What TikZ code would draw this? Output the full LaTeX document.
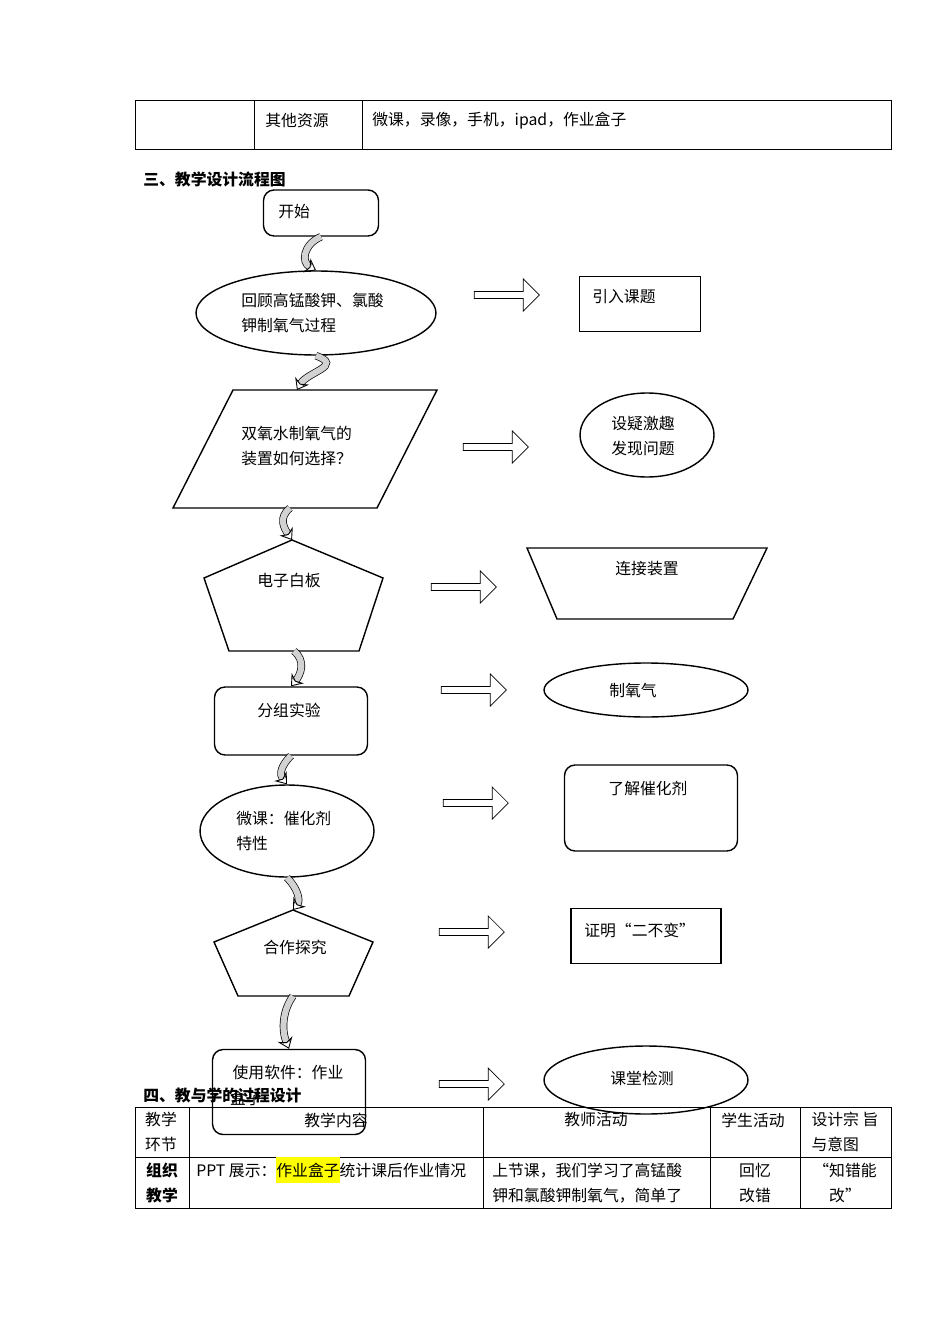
\documentclass[tikz,border=0pt]{standalone}
\usepackage{fontspec}
\setmainfont{Noto Sans CJK SC}
\usepackage{tikz}
\usetikzlibrary{shapes.geometric, shapes.arrows, arrows.meta, positioning, calc}
\definecolor{hlyellow}{HTML}{FFFF00}
\tikzset{
  box/.style={draw, thick, rectangle, inner sep=0pt},
  rbox/.style={draw, thick, rounded corners=6pt, inner sep=0pt},
  oval/.style={draw, thick, ellipse, inner sep=0pt},
  txt/.style={inner sep=0pt, font=\fontsize{9}{14}\selectfont, align=left},
  bigarrow/.style={draw, single arrow, minimum height=1.3cm, minimum width=0.3cm,
    inner sep=1.8pt, single arrow head indent=0pt, thin},
  curl/.style={line width=0.4pt, double=gray!35, double distance=3.5pt,
    -{Stealth[open, length=6pt, width=9pt, line width=0.5pt]}},
  head/.style={font=\fontsize{9}{12}\selectfont\bfseries, anchor=west, inner sep=0pt}
}
\begin{document}
\begin{tikzpicture}[x=0.02cm, y=-0.02cm]
  \useasboundingbox (0,0) rectangle (950,1344);

  % top table
  \draw[thin] (135,100) rectangle (891,149);
  \draw[thin] (254,100) -- (254,149) (362,100) -- (362,149);
  \node[txt] (res) at (297,121) {其他资源};
  \node[txt, anchor=west] (reslist) at (372,121) {微课，录像，手机，ipad，作业盒子};

  \node[head] (h3) at (143,179) {三、教学设计流程图};

  % flow chart, left column
  \node[rbox, minimum width=2.3cm, minimum height=0.92cm] (start) at (321,213) {};
  \node[txt, anchor=west] at (278,212) {开始};
  \node[oval, minimum width=4.8cm, minimum height=1.68cm] (recall) at (316,313) {};
  \node[txt, anchor=west] at (241,313) {回顾高锰酸钾、氯酸\\钾制氧气过程};

  \draw[thick] (233,390) -- (437,390) -- (377,508) -- (173,508) -- cycle;
  \coordinate (para-n) at (305,390);
  \coordinate (para-s) at (290,508);
  \node[txt, anchor=west] (para) at (241,446) {双氧水制氧气的\\装置如何选择？};

  \draw[thick] (292,540) -- (383,578) -- (359,651) -- (229,651) -- (204,578) -- cycle;
  \coordinate (pentA-n) at (292,540);
  \coordinate (pentA-s) at (294,651);
  \node[txt] (board) at (289,580) {电子白板};

  \node[rbox, minimum width=3.06cm, minimum height=1.36cm] (group) at (291,721) {};
  \node[txt] at (289,710) {分组实验};

  \node[oval, minimum width=3.48cm, minimum height=1.84cm] (micro) at (287,831) {};
  \node[txt, anchor=west] at (236,831) {微课：催化剂\\特性};

  \draw[thick] (293,910) -- (373,942) -- (349,996) -- (238,996) -- (214,942) -- cycle;
  \coordinate (pentB-n) at (293,910);
  \coordinate (pentB-s) at (293,996);
  \node[txt] (coop) at (295,947) {合作探究};

  \node[rbox, minimum width=3.06cm, minimum height=1.7cm] (soft) at (289,1092) {};
  \node[txt] at (288,1073) {使用软件：作业};
  \node[txt] at (246,1098) {盒子};

  % curled connectors
  \draw[curl] (start.south) .. controls +(-18,8) and +(-15,-8) .. (recall.north);
  \draw[curl] (recall.south) .. controls +(28,10) and +(10,-18) .. ($(para-n)+(-8,0)$);
  \draw[curl] (para-s) .. controls +(-12,10) and +(-8,-12) .. (pentA-n);
  \draw[curl] (pentA-s) .. controls +(12,10) and +(10,-12) .. (group.north);
  \draw[curl] (group.south) .. controls +(-10,10) and +(-8,-10) .. (micro.north);
  \draw[curl] (micro.south) .. controls +(10,10) and +(8,-10) .. (pentB-n);
  \draw[curl] (pentB-s) .. controls +(-10,14) and +(-8,-20) .. (soft.north);

  % right column
  \node[box, minimum width=2.42cm, minimum height=1.1cm] (intro) at (640,304) {};
  \node[txt, anchor=west] at (592,297) {引入课题};
  \node[oval, minimum width=2.68cm, minimum height=1.68cm] (doubt) at (647,435) {};
  \node[txt] at (643,436) {设疑激趣\\发现问题};
  \draw[thick] (527,548) -- (767,548) -- (733,619) -- (557,619) -- cycle;
  \node[txt] (connect) at (647,569) {连接装置};
  \node[oval, minimum width=4.08cm, minimum height=1.08cm] (oxy) at (646,690) {};
  \node[txt] at (633,690) {制氧气};
  \node[rbox, minimum width=3.46cm, minimum height=1.72cm] (cata) at (651,808) {};
  \node[txt] at (648,788) {了解催化剂};
  \node[box, minimum width=3cm, minimum height=1.1cm] (prove) at (646,936) {};
  \node[txt, anchor=west] at (584,930) {证明“二不变”};
  \node[oval, minimum width=4.08cm, minimum height=1.36cm] (test) at (646,1080) {};
  \node[txt] at (642,1078) {课堂检测};

  % block arrows
  \node[bigarrow] (a1) at (505,295) {};
  \node[bigarrow] (a2) at (494,447) {};
  \node[bigarrow] (a3) at (462,587) {};
  \node[bigarrow] (a4) at (472,690) {};
  \node[bigarrow] (a5) at (474,803) {};
  \node[bigarrow] (a6) at (470,932) {};
  \node[bigarrow] (a7) at (470,1084) {};

  \node[head] (h4) at (143,1095) {四、教与学的过程设计};

  % lower table
  \draw[thin] (135,1107) rectangle (891,1208);
  \draw[thin] (135,1157) -- (891,1157);
  \foreach \xx in {189,483,710,800} \draw[thin] (\xx,1107) -- (\xx,1208);
  \node[txt] at (161,1132) {教学\\环节};
  \node[txt] at (336,1120) {教学内容};
  \node[txt] at (596,1120) {教师活动};
  \node[txt] at (753,1120) {学生活动};
  \node[txt] at (845,1132) {设计宗 旨\\与意图};
  \node[txt, font=\fontsize{9}{14}\selectfont\bfseries] at (162,1183) {组织\\教学};
  \node[txt, anchor=west] at (196,1170) {PPT 展示：\colorbox{hlyellow}{\hspace{-3pt}作业盒子\hspace{-3pt}}统计课后作业情况};
  \node[txt, anchor=west] at (492,1183) {上节课，我们学习了高锰酸\\钾和氯酸钾制氧气，简单了};
  \node[txt, align=center] at (755,1183) {回忆\\改错};
  \node[txt, align=center] at (845,1183) {“知错能\\改”};
\end{tikzpicture}
\end{document}
